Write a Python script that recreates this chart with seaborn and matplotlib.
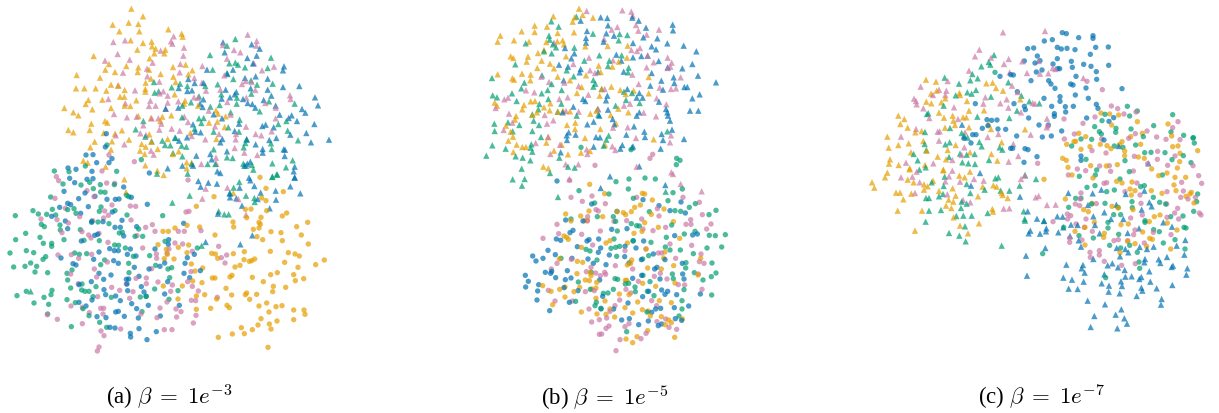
import matplotlib
matplotlib.use("Agg")
import matplotlib.pyplot as plt
import pandas as pd
import seaborn as sns

# Embedding readings, one list per cluster; units are thirds of a pixel inside each readout window
A1_T_ORANGE = [(394,29),(429,52),(338,77),(386,71),(415,75),(358,97),(418,97),(505,91),(545,104),(548,113),(392,124),(429,132),(455,128),(456,142),(412,152),(467,149),(496,152),(463,163),(493,163),(281,171),(449,178),(327,195),(379,201),(316,212),(345,219),(415,205),(447,212),(413,219),(519,204),(557,197),(577,214),(482,225),(565,226),(230,228),(300,236),(520,233),(453,239),(437,251),(527,249),(333,257),(354,260),(228,268),(253,268),(287,268),(319,275),(374,273),(436,270),(436,278),(524,286),(360,293),(373,293),(265,303),(307,302),(409,304),(257,315),(555,305),(552,314),(374,320),(391,321),(594,320),(193,327),(277,331),(333,327),(648,334),(220,340),(235,349),(415,351),(514,349),(654,344),(453,357),(487,353),(315,366),(322,371),(274,374),(481,366),(627,371),(652,368),(677,352),(674,384),(205,393),(220,400),(269,393),(366,394),(311,402),(345,404),(448,406),(571,402),(387,422),(284,428),(336,427),(503,420),(649,420),(425,435),(454,428),(437,443),(271,445),(333,452),(473,450),(420,455),(536,457),(518,465),(434,465),(250,485),(263,491),(317,503),(436,499),(560,490),(575,491),(472,515),(491,528),(560,508)]
A1_T_PINK = [(743,107),(521,112),(340,129),(375,124),(513,127),(517,134),(770,126),(669,138),(769,140),(552,146),(482,155),(702,153),(721,160),(353,165),(550,170),(681,179),(315,185),(389,182),(458,191),(541,195),(607,201),(762,193),(822,203),(441,209),(369,221),(539,220),(786,214),(442,232),(583,237),(478,248),(673,229),(606,251),(355,259),(405,274),(490,277),(726,255),(755,249),(737,246),(618,275),(661,272),(766,273),(479,283),(503,290),(582,295),(594,296),(870,289),(872,300),(451,305),(503,311),(447,321),(467,320),(535,307),(497,329),(626,335),(325,300),(376,313),(682,309),(739,296),(796,312),(827,326),(342,345),(692,347),(381,355),(410,353),(475,358),(455,358),(553,353),(827,358),(515,389),(430,379),(484,374),(564,369),(645,382),(478,392),(539,395),(738,383),(708,405),(657,405),(767,405),(815,397),(784,409),(347,409),(421,403),(438,408),(707,421),(616,421),(575,411),(373,436),(704,447),(453,455),(461,467),(733,461),(772,468),(648,476),(604,495),(649,494)]
A1_T_GREEN = [(706,120),(681,140),(630,168),(813,176),(688,193),(706,191),(714,197),(735,205),(803,207),(638,212),(681,222),(462,249),(700,240),(653,256),(753,244),(771,257),(818,254),(540,254),(515,265),(562,261),(464,281),(476,277),(597,292),(664,286),(711,296),(754,284),(616,261),(573,310),(807,307),(884,314),(659,318),(710,314),(631,323),(547,320),(692,340),(779,337),(430,366),(546,355),(597,358),(611,357),(604,372),(719,362),(835,375),(859,366),(407,391),(584,389),(641,398),(685,385),(717,398),(863,395),(436,413),(527,417),(455,427),(487,425),(495,438),(511,439),(545,440),(559,443),(740,420),(736,432),(731,445),(813,433),(815,450),(641,451),(894,424),(547,472),(681,475),(698,477),(878,484),(817,493),(730,494),(738,500),(756,498),(760,512),(623,495),(646,495),(563,524),(471,524),(830,526),(817,534),(858,505),(575,495),(519,462)]
A1_T_BLUE = [(669,130),(755,136),(779,149),(674,160),(770,170),(742,177),(759,193),(852,202),(849,214),(621,212),(699,212),(682,225),(767,232),(735,237),(565,240),(584,252),(611,252),(803,239),(849,264),(898,261),(536,267),(562,276),(576,274),(677,272),(709,279),(752,268),(803,272),(945,295),(954,319),(665,299),(690,295),(704,286),(729,300),(814,290),(791,303),(743,312),(757,315),(610,301),(600,314),(608,324),(497,329),(535,326),(766,326),(827,320),(641,346),(906,330),(916,341),(839,347),(875,349),(866,357),(666,358),(891,366),(943,375),(717,374),(579,376),(787,381),(797,377),(821,385),(586,398),(602,400),(704,396),(919,402),(871,407),(740,422),(829,417),(808,423),(525,416),(561,415),(661,430),(667,420),(933,430),(987,422),(767,436),(537,425),(788,450),(851,451),(855,452),(788,461),(854,471),(631,465),(681,457),(589,470),(635,481),(751,488),(742,494),(579,500),(547,500),(503,508),(884,503),(881,517),(652,517),(661,522),(884,535),(733,500)]
A1_C_BLUE = [(319,404),(316,444),(258,468),(279,467),(290,491),(327,491),(336,479),(204,507),(228,511),(276,517),(448,522)]
A1_C_GREEN = [(321,438),(424,482),(256,501),(163,516),(207,518),(350,517)]
A1_C_PINK = [(327,468),(403,488),(306,516)]

A2_C_BLUE = [(209,13),(224,26),(261,16),(279,14),(371,39),(192,52),(255,57),(285,67),(236,74),(321,76),(346,76),(357,75),(394,70),(203,88),(212,92),(179,100),(265,98),(442,91),(337,114),(242,118),(155,127),(196,141),(275,145),(309,143),(366,139),(203,164),(345,160),(361,160),(410,158),(551,148),(293,181),(284,184),(371,186),(244,201),(506,197),(465,225),(329,224),(343,230),(355,230),(297,234),(391,225),(382,241),(505,211),(583,241),(562,251),(183,252),(281,256),(341,260),(355,268),(408,246),(219,269),(228,273),(555,268),(494,267),(447,285),(480,277),(403,280),(601,290),(552,298),(297,298),(333,303),(417,307),(569,311),(311,316),(379,316),(386,315),(274,323),(237,332),(503,323),(424,338),(381,330),(383,350),(432,354),(312,347),(494,360),(438,367),(317,362),(347,366),(361,380),(276,378),(237,385),(395,389),(445,394),(258,396),(410,404),(347,414),(355,412),(373,427),(291,428),(318,431),(415,432),(481,426),(345,462),(330,460),(417,464),(469,473),(391,478),(392,489),(441,497),(538,394)]
A2_C_GREEN = [(189,30),(269,25),(243,33),(301,32),(343,32),(280,44),(302,54),(315,55),(152,69),(380,64),(386,68),(99,110),(157,106),(203,107),(222,104),(303,99),(298,112),(345,110),(46,125),(115,120),(140,121),(167,123),(228,118),(381,123),(488,125),(124,151),(133,158),(180,153),(181,168),(275,142),(294,144),(327,149),(241,167),(77,178),(120,190),(47,197),(192,197),(130,208),(155,208),(155,217),(298,200),(252,199),(358,177),(367,175),(416,165),(428,187),(405,187),(495,202),(344,213),(356,214),(376,222),(30,237),(79,230),(101,236),(137,248),(129,256),(224,237),(238,241),(260,239),(449,245),(400,247),(314,258),(92,267),(75,277),(41,279),(110,277),(302,272),(386,268),(467,274),(515,281),(504,285),(105,294),(143,296),(201,298),(216,288),(387,296),(203,318),(509,311),(212,342),(246,330),(245,348),(288,338),(267,352),(255,352),(592,222),(464,345),(79,352),(156,349),(153,362),(51,365),(132,370),(201,377),(102,387),(146,391),(226,386),(279,368),(334,370),(421,369),(439,367),(534,350),(507,376),(249,404),(143,420),(267,425),(426,413),(299,445),(214,458),(320,460)]
A2_C_PINK = [(169,8),(176,20),(320,27),(344,28),(564,18),(261,50),(282,68),(165,73),(336,93),(391,96),(407,97),(196,103),(314,111),(239,128),(311,132),(325,124),(123,135),(171,137),(393,138),(278,140),(205,147),(437,160),(457,152),(558,114),(567,112),(186,176),(246,173),(465,172),(535,172),(553,172),(603,170),(297,178),(266,183),(273,192),(411,185),(324,205),(525,207),(548,210),(507,225),(428,222),(656,217),(577,232),(469,240),(501,238),(174,243),(214,242),(275,241),(664,251),(680,243),(236,253),(470,253),(322,264),(675,267),(212,300),(290,309),(283,285),(455,284),(439,312),(573,293),(408,313),(439,329),(474,324),(563,323),(235,329),(379,330),(335,340),(517,333),(577,337),(359,349),(399,353),(595,351),(293,368),(512,352),(389,373),(574,379),(587,380),(652,370),(501,384),(480,402),(213,396),(247,400),(302,403),(311,403),(528,405),(543,413),(309,420),(423,420),(268,416),(142,422),(172,436),(247,449),(471,431),(530,429),(588,424),(580,447),(362,465),(303,471),(312,485),(493,467),(516,467),(297,519),(292,531)]
A2_C_ORANGE = [(780,10),(798,43),(850,53),(642,68),(785,72),(798,80),(589,97),(736,106),(753,105),(800,110),(783,130),(847,126),(860,117),(740,131),(923,145),(777,145),(781,151),(699,144),(701,159),(890,158),(561,154),(599,159),(760,166),(777,162),(489,172),(505,172),(525,162),(813,173),(843,176),(904,183),(645,183),(771,188),(788,197),(847,200),(925,210),(474,212),(566,213),(499,226),(535,220),(502,241),(561,236),(635,238),(646,240),(700,239),(733,233),(811,232),(865,236),(885,240),(898,246),(653,253),(493,254),(522,255),(732,257),(748,262),(755,260),(764,255),(854,265),(947,272),(973,258),(720,274),(705,279),(894,280),(574,270),(608,282),(585,291),(832,296),(812,302),(881,302),(637,312),(645,312),(690,309),(696,304),(757,310),(886,320),(911,314),(790,323),(606,326),(578,321),(547,336),(490,336),(820,337),(857,340),(678,343),(818,353),(614,362),(695,363),(740,357),(736,362),(770,361),(749,376),(534,375),(589,366),(650,375),(800,387),(777,396),(828,398),(846,395),(681,394),(688,401),(632,403),(589,406),(807,414),(881,408),(912,408),(915,421),(783,434),(831,441),(881,437),(808,450),(774,453),(724,461),(813,465),(697,480),(733,479),(757,467),(655,490),(804,520)]
A2_T_BLUE = [(595,21),(625,26),(602,38),(651,29),(747,11),(751,19),(763,36),(884,11),(871,37),(719,41),(827,50),(901,58),(782,56),(690,70),(709,73),(773,75),(828,77),(726,95),(809,103),(654,119),(617,204),(721,211),(757,184),(689,58)]
A2_T_GREEN = [(718,24),(701,41),(817,8),(832,2),(569,65),(690,58),(738,65),(517,86),(763,72),(764,84),(656,112),(673,121),(686,121),(605,215),(92,352)]
A2_T_PINK = [(617,44),(682,41),(607,74),(738,122),(715,75)]
A2_T_ORANGE = [(373,16),(378,54),(700,57)]

B1_T_ORANGE = [(297,29),(220,52),(284,55),(278,68),(308,48),(339,56),(164,80),(201,83),(125,97),(164,99),(233,102),(282,100),(61,110),(53,128),(102,124),(147,128),(199,129),(232,127),(248,124),(252,136),(316,142),(383,141),(443,140),(192,153),(174,162),(258,172),(92,172),(100,177),(144,173),(140,188),(185,185),(210,194),(222,208),(172,207),(356,200),(397,203),(416,188),(441,176),(53,226),(126,224),(152,227),(97,238),(102,242),(151,244),(233,233),(270,244),(318,229),(362,219),(506,234),(305,264),(394,263),(421,273),(291,282),(365,270),(359,290),(437,285),(461,275),(506,283),(44,311),(51,320),(152,307),(165,306),(132,318),(127,331),(211,313),(192,325),(209,334),(234,338),(249,335),(270,337),(349,335),(415,329),(445,340),(108,351),(171,340),(157,348),(331,344),(392,348),(105,362),(78,380),(261,378),(286,371),(408,373),(361,390),(285,390),(92,398),(99,413),(85,425),(205,414),(245,437),(199,431),(110,437),(127,444),(138,444),(100,459),(222,455),(303,461),(264,466),(330,456),(521,421),(315,417),(190,503),(205,508),(375,437)]
B1_T_PINK = [(427,34),(454,38),(320,36),(458,50),(468,78),(537,92),(412,84),(395,92),(475,95),(500,107),(372,120),(222,131),(480,147),(454,153),(471,156),(503,170),(399,184),(327,176),(280,195),(563,176),(575,191),(500,205),(521,190),(571,203),(563,207),(330,214),(345,222),(457,227),(602,235),(184,233),(207,249),(253,251),(296,261),(539,266),(573,270),(588,268),(138,274),(163,280),(84,296),(73,301),(238,300),(263,295),(325,287),(374,270),(476,255),(530,298),(559,316),(450,314),(432,320),(47,327),(258,336),(87,344),(194,348),(355,331),(296,338),(491,341),(528,352),(220,364),(97,371),(201,374),(71,393),(399,386),(443,385),(468,417),(573,409),(570,430),(167,432),(240,437),(397,442),(406,453),(211,465),(320,451),(322,465),(257,496),(295,496),(470,503),(574,520),(579,525),(268,540),(204,414)]
B1_T_GREEN = [(289,53),(214,67),(236,83),(339,104),(207,110),(209,122),(137,133),(219,136),(419,105),(442,108),(228,145),(416,124),(283,146),(192,157),(215,163),(425,169),(358,169),(313,185),(388,185),(384,201),(106,196),(260,214),(446,206),(444,220),(36,237),(186,229),(281,232),(340,243),(133,251),(215,255),(124,268),(96,283),(203,273),(245,273),(38,289),(51,295),(185,283),(110,306),(205,300),(244,314),(178,315),(175,331),(233,338),(407,320),(479,312),(355,347),(290,350),(353,330),(157,346),(161,365),(84,370),(118,378),(177,378),(43,374),(44,396),(98,397),(157,396),(183,414),(386,410),(562,397),(37,439),(77,449),(154,436),(152,446),(157,458),(107,472),(128,476),(151,484),(19,470),(238,476),(125,509),(264,503),(284,506),(210,522),(379,422),(371,440),(365,270),(346,254),(340,263),(432,278),(438,303),(456,282)]
B1_T_BLUE = [(362,55),(382,57),(457,56),(302,65),(384,79),(476,65),(578,77),(579,94),(498,86),(321,96),(379,103),(402,110),(490,115),(532,118),(318,117),(371,128),(459,132),(318,131),(562,133),(611,140),(515,142),(528,151),(649,157),(255,147),(283,163),(409,167),(484,171),(503,170),(274,178),(459,175),(536,186),(424,185),(637,195),(237,197),(264,203),(302,210),(299,220),(354,219),(563,205),(607,208),(431,218),(515,222),(654,230),(581,235),(251,244),(544,245),(583,252),(511,260),(708,250),(613,264),(622,264),(442,270),(549,272),(659,286),(478,282),(470,296),(488,296),(637,298),(382,290),(378,304),(309,300),(316,306),(537,308),(280,323),(384,332),(248,340),(558,330),(562,340),(564,350),(630,335),(655,335),(478,340),(470,350),(358,350),(341,368),(322,376),(398,360),(570,365),(462,382),(403,376),(266,400),(287,407),(260,409),(493,398),(545,405),(439,407),(495,414),(348,414),(360,415),(612,420),(549,423),(261,423),(341,443),(427,438),(459,442),(456,445),(421,449),(242,460),(542,449),(478,502),(390,532),(576,392)]
B1_C_GREEN = [(303,445),(453,452),(590,478),(600,484),(589,497)]
B1_C_PINK = [(518,466),(510,478),(345,499)]

B2_T_GREEN = [(8,31),(44,30),(36,50),(144,84),(467,68)]
B2_T_BLUE = [(272,57),(466,48)]
B2_T_PINK = [(512,45),(575,67)]
B2_C_BLUE = [(141,36),(245,105),(399,92),(447,110),(513,99),(321,127),(480,125),(526,132),(167,153),(219,156),(305,181),(351,179),(189,184),(180,191),(266,210),(139,210),(152,214),(237,212),(231,216),(401,216),(494,200),(548,198),(562,195),(370,215),(202,233),(272,237),(345,232),(378,237),(114,244),(298,258),(136,257),(68,261),(99,268),(78,276),(186,268),(265,250),(234,270),(430,255),(465,272),(344,263),(394,272),(288,287),(357,282),(517,283),(250,283),(172,305),(125,307),(122,313),(106,310),(46,319),(55,337),(47,354),(137,326),(166,332),(183,327),(434,300),(441,295),(450,330),(395,319),(368,328),(269,333),(86,347),(162,356),(83,366),(204,365),(416,367),(455,363),(465,376),(473,367),(571,375),(500,377),(81,393),(178,400),(119,425),(354,402),(273,418),(311,420),(437,420),(452,418),(425,430),(536,411),(493,416),(278,382),(398,383),(335,453),(358,449),(415,456),(386,467),(445,470),(455,465),(496,449),(515,454),(518,315),(522,330)]
B2_C_GREEN = [(318,38),(357,30),(405,27),(436,30),(207,65),(355,60),(297,75),(489,71),(517,60),(370,88),(474,95),(254,102),(556,104),(538,115),(618,124),(597,137),(262,143),(310,143),(183,150),(317,157),(364,164),(380,170),(388,171),(418,128),(485,168),(495,125),(512,127),(322,186),(555,187),(598,199),(646,197),(616,200),(523,195),(469,205),(423,220),(312,210),(635,234),(591,237),(511,243),(480,243),(228,241),(240,246),(303,238),(317,235),(329,232),(369,216),(466,234),(550,254),(606,282),(153,268),(261,273),(320,262),(398,270),(416,260),(528,281),(244,310),(527,297),(618,312),(553,311),(604,323),(487,315),(579,333),(399,319),(315,329),(323,331),(420,338),(346,345),(356,343),(490,329),(205,339),(432,380),(605,378),(522,362),(375,354),(241,361),(310,361),(280,373),(294,372),(376,368),(412,367),(197,397),(259,400),(255,410),(273,420),(516,395),(516,420),(411,429),(507,441),(350,488)]
B2_C_PINK = [(179,34),(246,81),(183,85),(217,97),(286,104),(380,85),(519,85),(568,100),(265,126),(258,122),(442,119),(577,137),(233,143),(232,156),(447,141),(542,152),(603,165),(141,166),(312,157),(350,155),(395,150),(543,166),(528,166),(467,175),(590,180),(146,194),(215,196),(271,186),(429,185),(399,180),(99,208),(480,225),(545,229),(248,228),(345,245),(408,240),(445,252),(455,252),(573,255),(568,278),(582,283),(497,268),(141,283),(184,271),(316,290),(229,308),(257,312),(284,310),(287,316),(368,300),(124,300),(271,320),(243,295),(433,322),(565,315),(451,313),(524,348),(576,361),(385,337),(471,330),(505,347),(226,368),(115,364),(135,396),(253,365),(348,361),(362,372),(237,420),(187,396),(315,410),(329,393),(440,410),(425,395),(300,427),(268,452),(290,447),(245,459),(357,464),(345,473),(297,471),(288,478),(275,495),(268,496),(467,450),(441,458),(477,475),(500,481),(330,512),(393,509),(408,493),(318,545)]
B2_C_ORANGE = [(239,46),(284,74),(397,73),(404,75),(427,93),(391,108),(374,115),(237,126),(340,131),(347,137),(321,128),(364,128),(167,135),(183,156),(212,141),(224,155),(232,154),(278,143),(424,136),(462,120),(404,161),(445,175),(490,158),(162,201),(175,211),(170,205),(372,193),(396,187),(509,208),(288,222),(300,215),(214,235),(352,222),(408,240),(465,249),(148,270),(572,268),(202,277),(218,280),(461,267),(365,273),(362,283),(352,288),(491,290),(413,297),(454,300),(241,310),(201,314),(564,318),(226,333),(238,335),(243,320),(346,334),(350,334),(398,343),(437,352),(495,342),(260,340),(258,357),(98,350),(123,367),(149,361),(192,368),(165,354),(246,360),(209,355),(165,384),(328,375),(357,377),(383,399),(128,407),(214,429),(258,388),(285,396),(484,401),(345,416),(368,432),(397,422),(414,426),(448,395),(261,435),(288,436),(300,420),(421,441),(454,443),(484,461),(476,453),(517,450),(314,444),(466,467),(413,485),(348,510),(368,521),(381,503),(494,505)]

C1_T_PINK = [(414,40),(540,36),(343,92),(330,112),(378,116),(431,120),(472,127),(417,135),(521,126),(563,147),(571,150),(434,160),(486,162),(525,164),(550,163),(312,155),(167,203),(248,186),(244,215),(222,212),(204,228),(241,228),(147,239),(153,246),(155,256),(175,268),(193,297),(361,235),(355,254),(425,241),(406,253),(430,266),(267,265),(441,200),(655,177),(458,219),(503,252),(510,254),(468,280),(546,299),(153,330),(108,353),(218,338),(224,337),(400,345),(368,354),(497,347),(222,365),(545,325),(279,300),(298,385),(445,375),(123,431),(205,433),(431,428),(460,411),(262,423),(300,340),(290,408)]
C1_T_ORANGE = [(183,182),(213,188),(215,215),(198,224),(283,222),(285,228),(393,207),(383,191),(364,193),(414,215),(241,238),(184,248),(199,253),(229,250),(306,246),(357,274),(466,241),(222,281),(312,275),(100,290),(118,300),(263,290),(237,296),(294,295),(304,295),(128,326),(106,315),(151,340),(170,336),(265,305),(270,318),(240,326),(67,353),(312,325),(370,315),(378,330),(175,366),(100,378),(131,373),(71,386),(248,393),(272,378),(410,370),(138,400),(218,413),(243,421),(315,400),(379,405),(397,425),(75,421),(72,434),(101,438),(180,438),(134,448),(235,452),(480,331),(185,395)]
C1_T_GREEN = [(387,108),(371,129),(376,137),(349,142),(239,176),(322,165),(316,184),(338,178),(282,194),(430,190),(272,229),(307,220),(320,224),(333,213),(378,233),(469,230),(236,260),(493,247),(523,253),(456,275),(186,285),(190,283),(337,293),(433,297),(255,327),(290,342),(298,352),(308,356),(180,339),(179,375),(254,370),(241,376),(343,369),(184,393),(146,405),(158,424),(252,414),(285,404),(329,405),(404,385),(412,392),(350,382),(305,407),(292,430),(310,433),(372,423),(182,445),(163,452),(330,435)]
C1_T_BLUE = [(291,317),(761,381),(850,433)]
C1_C_BLUE = [(592,41),(604,44),(684,50),(684,58),(641,56),(562,62),(538,66),(577,85),(589,90),(606,88),(630,92),(692,85),(730,84),(488,89),(506,87),(676,106),(517,111),(478,126),(577,119),(619,127),(510,132),(525,125),(564,135),(656,136),(678,142),(731,139),(622,145),(584,149),(578,149),(531,153),(514,159),(694,158),(405,172),(437,167),(445,168),(633,172),(695,181),(498,185),(551,185),(558,195),(617,195),(624,198),(570,208),(663,207),(771,209),(457,218),(585,233),(631,228),(670,238),(537,238),(585,247),(447,254),(331,254),(694,256),(699,268),(560,262),(601,263),(625,262),(478,262),(481,272),(602,279),(568,284),(568,292),(491,297),(665,297),(746,296),(732,307),(522,318),(590,336),(366,302),(380,304),(396,303),(352,328),(399,330),(422,331),(369,320),(532,354),(559,351),(455,351),(323,347),(333,347),(297,358),(318,372),(443,388),(437,388),(480,389),(489,392),(516,413),(477,430),(717,363),(648,411),(648,424),(550,318)]
C1_C_GREEN = [(390,160),(787,262),(817,276),(720,286),(794,291),(923,287),(711,305),(689,323),(753,328),(866,320),(918,339),(703,338),(709,345),(752,340),(956,349),(984,357),(985,356),(680,361),(648,360),(988,372),(748,381),(620,381),(774,385),(812,378),(839,401),(858,400),(900,401),(955,410),(921,422),(978,431),(780,425),(663,421),(835,353),(798,330)]
C1_C_PINK = [(739,261),(758,269),(813,279),(777,285),(690,294),(597,300),(939,308),(654,313),(923,326),(549,322),(518,433),(846,336),(628,345),(811,344),(875,354),(903,361),(945,362),(710,360),(791,358),(681,395),(723,402),(808,412),(878,397),(877,421),(930,411),(848,434),(733,440),(908,439),(704,441),(637,450),(598,360),(984,440),(666,187),(712,212)]
C1_C_ORANGE = [(708,282),(734,285),(761,288),(817,308),(909,315),(740,318),(920,351),(662,353),(832,343),(641,343),(627,368),(605,376),(632,367),(771,368),(797,353),(763,377),(675,383),(648,391),(706,376),(726,380),(738,389),(779,396),(827,376),(939,381),(923,383),(779,410),(998,395),(945,403),(820,414),(593,418),(604,424),(757,437),(724,441),(944,428),(838,418),(677,440),(609,445),(860,450),(937,447)]

C2_T_ORANGE = [(67,11),(60,25),(21,40),(28,56),(128,32),(146,40),(177,46),(188,52),(177,62),(93,71),(105,71),(139,74),(115,91),(222,66),(263,58),(272,80),(339,82),(251,92),(243,110),(265,98),(259,117),(98,125),(171,125),(382,120),(384,128),(353,53),(385,49),(395,53),(410,71),(413,78),(428,87),(266,145),(342,163),(285,170),(309,193),(150,185),(204,35),(299,25),(283,20),(315,8),(235,4),(134,1)]
C2_T_PINK = [(108,25),(142,23),(164,40),(150,72),(262,5),(252,22),(241,37),(327,30),(356,35),(285,38),(468,30),(247,76),(294,93),(316,100),(512,85),(521,81),(546,108),(572,107),(416,119),(433,118),(480,20),(155,8)]
C2_T_GREEN = [(200,40),(239,23),(236,51),(222,82),(183,87),(192,87),(234,75),(316,72),(290,98),(305,104),(288,117),(228,123),(192,125),(359,62),(305,45),(274,141),(295,140),(320,140),(300,172),(368,132),(182,158),(252,192),(283,200),(302,217),(410,230),(464,50),(433,65),(407,65),(513,30),(480,18),(400,25),(391,28),(476,127),(537,155),(479,150),(480,155)]
C2_T_BLUE = [(345,12),(318,50),(465,83),(488,127),(516,149),(577,142),(593,143),(610,72),(537,156),(496,185),(491,193),(525,194),(544,178),(543,187),(580,190),(595,175),(618,167),(638,168),(690,168),(685,142),(683,73),(709,62),(754,107),(669,108),(718,130),(830,122),(860,112),(853,100),(782,75),(838,65),(615,201),(641,214),(648,233),(704,193),(738,150),(775,150),(895,160),(921,173),(788,192),(822,178),(846,240),(824,234),(755,237),(790,250),(781,240),(866,233),(935,230),(961,213),(958,257),(765,262),(685,270),(604,287),(654,288),(650,298),(659,311),(541,237),(483,260),(486,320),(595,326),(621,332),(656,338),(611,359),(638,360),(710,343),(732,350),(771,351),(768,337),(781,323),(800,322),(823,330),(829,324),(853,307),(856,338),(875,358),(829,356),(832,365),(922,348),(964,317),(967,298),(920,294),(924,290),(881,271),(886,282),(906,264),(840,270),(838,280),(742,283),(728,289),(759,295),(779,303),(731,368),(764,373),(815,381),(668,395),(720,406),(769,421),(890,390),(888,407),(752,437),(688,441),(778,448),(786,464),(677,474),(757,478),(718,316)]
C2_C_GREEN = [(643,22),(695,3),(691,18),(765,30),(793,8),(827,53),(838,50),(666,55),(690,50),(748,63),(725,68),(611,115),(632,88),(648,88),(680,105),(801,98),(802,116),(759,115),(720,103),(884,100),(902,105),(865,85),(998,75),(995,98),(986,127),(954,141),(917,143),(767,137),(746,137),(729,160),(729,177),(866,182),(883,188),(957,175),(963,177),(930,212),(685,207),(642,200),(761,196),(734,229),(767,237),(794,229),(817,250),(960,240),(533,254),(822,279),(824,298),(722,326),(895,222),(840,160),(596,175),(840,155),(892,18)]
C2_C_PINK = [(610,18),(662,5),(737,7),(805,6),(717,43),(725,41),(816,42),(648,72),(645,90),(950,40),(1010,43),(1001,20),(955,66),(947,85),(991,85),(969,90),(906,68),(905,105),(694,104),(631,105),(644,110),(825,78),(780,68),(828,103),(832,138),(938,118),(929,132),(1003,132),(1008,138),(906,145),(941,150),(607,135),(617,140),(608,150),(564,158),(633,165),(663,150),(797,147),(682,187),(810,183),(806,197),(865,190),(918,197),(651,213),(614,207),(614,220),(788,215),(760,212),(747,215),(838,222),(675,250),(703,245),(703,258),(676,265),(718,277),(770,289),(811,284),(658,175)]
C2_C_ORANGE = [(621,18),(537,31),(684,27),(771,42),(801,39),(881,20),(906,12),(930,25),(927,48),(933,65),(975,75),(963,82),(987,102),(979,70),(962,25),(601,90),(799,78),(859,65),(891,73),(681,103),(741,112),(760,117),(656,122),(670,128),(804,122),(885,138),(853,158),(907,162),(790,165),(688,160),(630,187),(660,175),(718,193),(716,205),(833,189),(936,183),(788,217),(810,224),(845,232),(660,228),(854,208),(862,211),(917,240),(765,251),(768,167),(755,37),(795,60),(810,65),(868,143)]

CAPTIONS = [r"(a) $\beta\;=\;1e^{-3}$", r"(b) $\beta\;=\;1e^{-5}$", r"(c) $\beta\;=\;1e^{-7}$"]

PALETTE = {"orange": "#E69F00", "pink": "#CC79A7", "green": "#009E73", "blue": "#0072B2"}
MARKERS = {"t": "^", "c": "o"}
SIZES = {"t": 21, "c": 15}

WINDOWS = {"A1": (0, 0), "A2": (0, 175), "B1": (480, 0), "B2": (510, 170), "C1": (865, 20), "C2": (865, 170)}

rows = []
for name, pts in list(globals().items()):
    parts = name.split("_")
    if len(parts) == 3 and parts[0] in WINDOWS and isinstance(pts, list):
        x0, y0 = WINDOWS[parts[0]]
        for x, y in pts:
            rows.append((parts[0][0], parts[1].lower(), parts[2].lower(), x0 + x / 3, y0 + y / 3))
df = pd.DataFrame(rows, columns=["panel", "shape", "cluster", "x", "y"])
df = df.sort_values("y")  # interleave the clusters in drawing order

W, H = 1219, 414
sns.set_theme(style="white")
plt.rcParams["font.family"] = ["Liberation Serif", "DejaVu Serif"]
plt.rcParams["mathtext.fontset"] = "cm"
fig = plt.figure(figsize=(W / 100, H / 100), dpi=100)
ax = fig.add_axes([0, 0, 1, 1])

for panel in "ABC":
    sns.scatterplot(data=df[df.panel == panel], x="x", y="y", hue="cluster", style="shape",
                    size="shape", sizes=SIZES,
                    palette=PALETTE, markers=MARKERS, alpha=0.7, linewidth=0,
                    legend=False, ax=ax)
ax.set_xlim(0, W)
ax.set_ylim(H, 0)
ax.set_axis_off()

for cx, cap in zip([169, 605, 1041], CAPTIONS):
    ax.text(cx, 405, cap, ha="center", va="baseline", fontsize=16.5, color="black")

fig.savefig("out.png", dpi=100)
